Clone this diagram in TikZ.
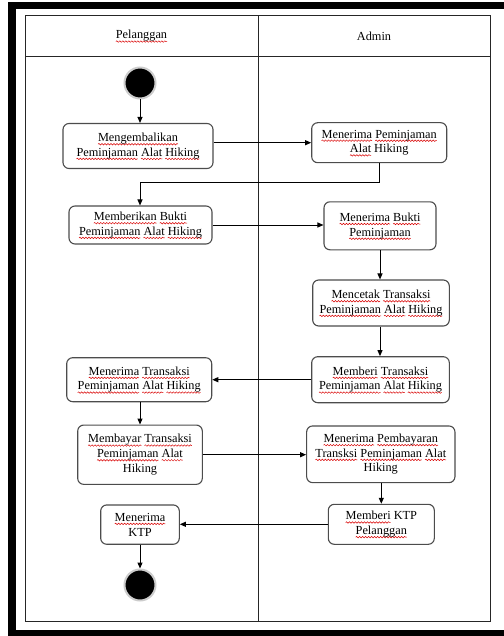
\documentclass[tikz,border=0pt]{standalone}
\usepackage{fontspec}
\setmainfont{Liberation Serif}
\usetikzlibrary{arrows.meta,decorations.pathmorphing}
\newlength\sqlen
\newsavebox\sqbox
\tikzset{sqline/.style={draw=red!85!black, line width=0.5bp, sharp corners, solid, decorate,
  decoration={snake, segment length=3bp, amplitude=0.75bp}}}
\newcommand\sq[1]{\sbox\sqbox{#1}\setlength\sqlen{\wd\sqbox}%
  \tikz[baseline=0pt,x=1pt,y=1pt,overlay,sharp corners,line width=0.5bp]\path[sqline] (0pt,-2.6bp) -- (\sqlen,-2.6bp);%
  \usebox\sqbox}
\tikzset{
  act/.style={draw=black!70, line width=1.1bp, rounded corners=6bp, fill=white, align=center,
    inner sep=0pt, font=\fontsize{12.3bp}{14.7bp}\selectfont},
  arr/.style={draw=black, line width=1bp, -{Triangle[length=6bp,width=5bp]}},
  tbl/.style={draw=black!85, line width=1bp},
  hdr/.style={font=\fontsize{12.3bp}{14.7bp}\selectfont, inner sep=0pt},
  dot/.style={circle, fill=black, draw=black!20, line width=2bp, minimum size=31bp, inner sep=0pt}
}
\begin{document}
\begin{tikzpicture}[x=1bp,y=-1bp]
\useasboundingbox (0,0) rectangle (504,636);
% outer black band
\fill[black] (8,2) rectangle (504,9);
\fill[black] (8,2) rectangle (16,636);
\fill[black] (8,630) rectangle (504,636);
% table
\draw[tbl] (25,16) rectangle (490,621.7);
\draw[tbl] (25,57) -- (490,57);
\draw[tbl] (258,16) -- (258,621.7);
\node[hdr] (hP) at (141.5,36) {\sq{Pelanggan}};
\node[hdr] (hA) at (374,36) {Admin};
% start / end
\node[dot] (start) at (140,83) {};
\node[dot] (end) at (140,585) {};
% activities
\node[act, minimum width=150bp, minimum height=45bp] (L1) at (138,146) {\sq{Mengembalikan}\\\sq{Peminjaman} \sq{Alat} \sq{Hiking}};
\node[act, minimum width=135bp, minimum height=40bp] (A1) at (379.2,142.7) {\sq{Menerima} \sq{Peminjaman}\\\sq{Alat} Hiking};
\node[act, minimum width=143bp, minimum height=38bp] (L2) at (140.5,225) {\sq{Memberikan} \sq{Bukti}\\\sq{Peminjaman} \sq{Alat} \sq{Hiking}};
\node[act, minimum width=112bp, minimum height=48bp] (A2) at (380,225.8) {\sq{Menerima} \sq{Bukti}\\\sq{Peminjaman}};
\node[act, minimum width=136.6bp, minimum height=46bp] (A3) at (381,303) {\sq{Mencetak} \sq{Transaksi}\\\sq{Peminjaman} \sq{Alat} \sq{Hiking}};
\node[act, minimum width=137.6bp, minimum height=46bp] (A4) at (380.5,379.7) {\sq{Memberi} \sq{Transaksi}\\\sq{Peminjaman} \sq{Alat} \sq{Hiking}};
\node[act, minimum width=145bp, minimum height=44bp] (L3) at (139.2,379.7) {\sq{Menerima} \sq{Transaksi}\\\sq{Peminjaman} \sq{Alat} \sq{Hiking}};
\node[act, minimum width=124.6bp, minimum height=59.3bp] (L4) at (140,454.7) {\sq{Membayar} \sq{Transaksi}\\\sq{Peminjaman} \sq{Alat}\\Hiking};
\node[act, minimum width=148.3bp, minimum height=56.7bp] (A5) at (380.8,454.3) {\sq{Menerima} \sq{Pembayaran}\\\sq{Transksi} \sq{Peminjaman} \sq{Alat}\\Hiking};
\node[act, minimum width=106bp, minimum height=40bp] (A6) at (381.3,524.3) {\sq{Memberi} KTP\\\sq{Pelanggan}};
\node[act, minimum width=78.6bp, minimum height=39.3bp] (L5) at (140,524.6) {\sq{Menerima}\\KTP};
% connectors
\draw[arr] (start.south) -- (start.south |- L1.north);
\draw[arr] (L1.east |- A1.west) -- (A1.west);
\draw[arr] (A1.south) -- ++(0,19) -| (start.south |- L2.north);
\draw[arr] (L2.east) -- (A2.west |- L2.east);
\draw[arr] (A2.south) -- (A2.south |- A3.north);
\draw[arr] (A2.south |- A3.south) -- (A2.south |- A4.north);
\draw[arr] (A4.west) -- (L3.east |- A4.west);
\draw[arr] (start.south |- L3.south) -- (start.south |- L4.north);
\draw[arr] (L4.east) -- (A5.west |- L4.east);
\draw[arr] (A6.north |- A5.south) -- (A6.north);
\draw[arr] (A6.west) -- (L5.east |- A6.west);
\draw[arr] (L5.south) -- (end.north);
\end{tikzpicture}
\end{document}
